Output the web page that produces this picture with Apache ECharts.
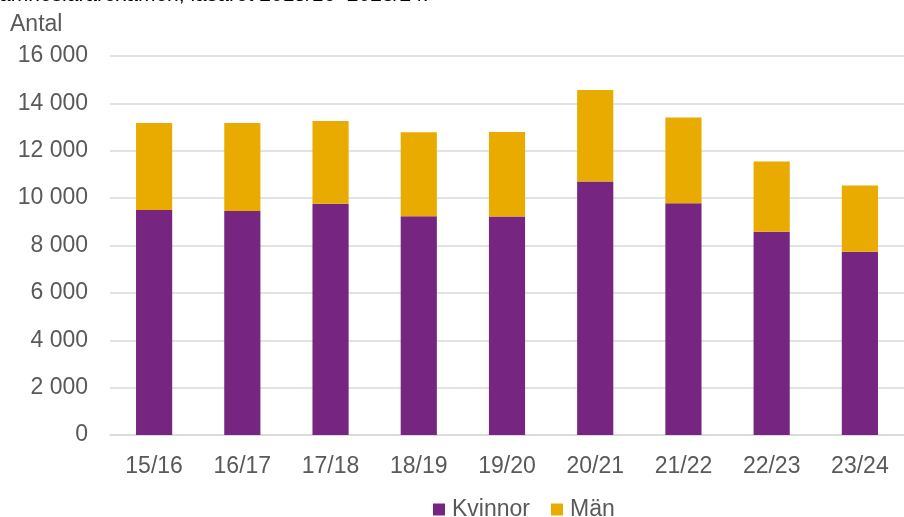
<!DOCTYPE html>
<html><head><meta charset="utf-8">
<script src="https://cdn.jsdelivr.net/npm/echarts@6/dist/echarts.min.js"></script>
<style>html,body{margin:0;padding:0;background:#fff}#c{width:904px;height:517px}</style>
</head><body><div id="c"></div>
<script>
const categories = ['15/16','16/17','17/18','18/19','19/20','20/21','21/22','22/23','23/24'];
const kvinnor = [9500, 9460, 9760, 9230, 9220, 10700, 9780, 8580, 7740];
const man = [3670, 3710, 3500, 3550, 3570, 3860, 3620, 2970, 2790];
const yTicks = [0, 2000, 4000, 6000, 8000, 10000, 12000, 14000, 16000];
const titleText = 'ämneslärarexamen, läsåret 2015/16–2023/24.';
const yName = 'Antal';

const font = 'Liberation Sans, Arial, sans-serif';
const fs = 23;
const chart = echarts.init(document.getElementById('c'));
chart.setOption({
  animation: false,
  title: { text: titleText, left: -6, top: -20, textStyle: { fontFamily: font, fontSize: 21, fontWeight: 'normal', color: '#000' } },
  grid: { left: 110, right: 0, top: 56, bottom: 82, containLabel: false },
  legend: {
    bottom: -9, left: 428, itemWidth: 12, itemHeight: 12, itemGap: 21,
    icon: 'rect',
    textStyle: { fontFamily: font, fontSize: fs, color: '#595959', padding: [0, 0, 0, 2] },
    data: ['Kvinnor', 'Män']
  },
  xAxis: {
    type: 'category', data: categories,
    axisLine: { lineStyle: { color: '#d9d9d9', width: 1.5 } },
    axisTick: { show: false },
    axisLabel: { fontFamily: font, fontSize: fs, color: '#595959', margin: 20 }
  },
  yAxis: {
    type: 'value', min: yTicks[0], max: yTicks[yTicks.length - 1], interval: 2000,
    name: yName, nameLocation: 'end', nameGap: 20,
    nameTextStyle: { fontFamily: font, fontSize: fs, color: '#595959', align: 'left', padding: [0, 0, 0, -100] },
    axisLine: { show: false }, axisTick: { show: false },
    splitLine: { lineStyle: { color: '#d9d9d9', width: 1.5 } },
    axisLabel: {
      fontFamily: font, fontSize: fs, color: '#595959', margin: 22,
      formatter: v => String(v).replace(/\B(?=(\d{3})+(?!\d))/g, ' ')
    }
  },
  series: [
    { name: 'Kvinnor', type: 'bar', stack: 't', data: kvinnor, barWidth: '41%', itemStyle: { color: '#762681' } },
    { name: 'Män', type: 'bar', stack: 't', data: man, barWidth: '41%', itemStyle: { color: '#EAAB00' } }
  ]
});
</script></body></html>
